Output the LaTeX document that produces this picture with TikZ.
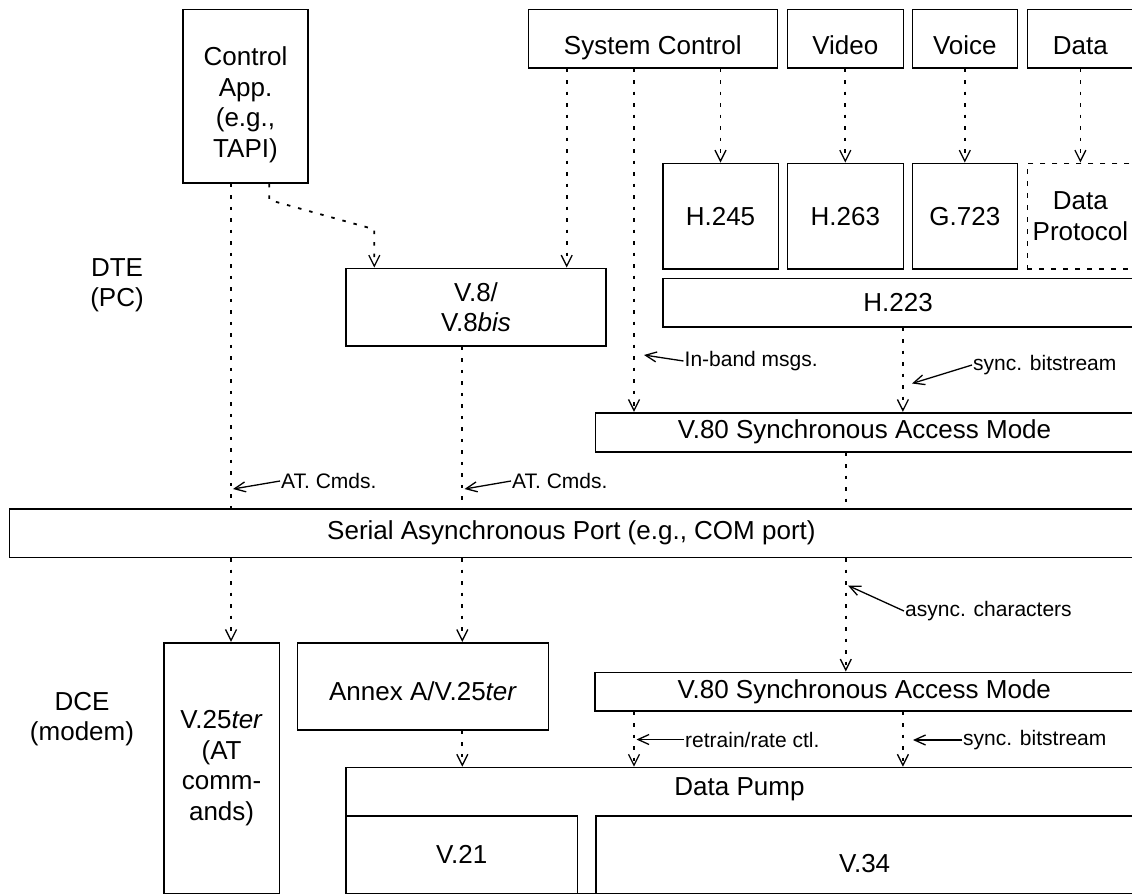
\documentclass[tikz,border=0pt]{standalone}
\usepackage{fontspec}
\setmainfont{Liberation Sans}
\usetikzlibrary{arrows.meta}
\def\msgfont{\fontsize{21}{25}\selectfont}

\begin{document}
\begin{tikzpicture}[x=1pt,y=-1pt,
  font=\fontsize{26}{30.5}\selectfont,
  blk/.style={draw,line width=1.6pt,align=center,inner sep=1pt},
  lowtext/.style={text height=#1,text depth=0pt},
  flow/.style={line width=1.8pt,dash pattern=on 3.5pt off 8pt,
    -{Straight Barb[length=11pt,width=11pt,line width=1.3pt]}},
  link/.style={line width=1.8pt,dash pattern=on 3.5pt off 8pt},
  note/.style={line width=1.3pt,-{Straight Barb[length=11pt,width=10pt]}},
  tag/.style={font=\msgfont,anchor=west,inner sep=1pt}]
\useasboundingbox (0,0) rectangle (1132,895);

% DTE side
\node (dte) at (117,285) [align=center] {DTE\\(PC)};
\node[blk,text height=124pt,text depth=2.4pt,minimum width=125,minimum height=173.7] (ctrl) at (245.5,96.2) {Control\\App.\\(e.g.,\\TAPI)};
\node[blk,lowtext=31pt,minimum width=249,minimum height=58.4] (sysctl) at (652.8,38.5) {System Control};
\node[blk,lowtext=31pt,minimum width=116,minimum height=58.4] (video) at (845.3,38.5) {Video};
\node[blk,lowtext=31pt,minimum width=105,minimum height=58.4] (voice) at (964.8,38.5) {Voice};
\node[blk,lowtext=31pt,minimum width=106.2,minimum height=58.4] (data) at (1080.4,38.5) {Data};
\node[blk,minimum width=115.6,minimum height=105.7] (h245) at (720.5,216.2) {H.245};
\node[blk,minimum width=116,minimum height=105.7] (h263) at (845.3,216.2) {H.263};
\node[blk,minimum width=105,minimum height=105.7] (g723) at (964.8,216.2) {G.723};
\node[blk,dash pattern=on 5pt off 7pt,minimum width=106.2,minimum height=105.7] (dproto) at (1080.4,216.2) {Data\\Protocol};
\node[blk,minimum width=470.8,minimum height=48.4] (h223) at (898.1,302.5) {H.223};
\node[blk,minimum width=260,minimum height=77.7] (v8) at (476,307.2) {V.8/\\V.8\textit{bis}};
\node[blk,minimum width=538,minimum height=39] (v80a) at (864.5,432.2) {V.80 Synchronous Access Mode};

% port
\node[blk,minimum width=1124.2,minimum height=48.3] (serial) at (571.4,533.2) {Serial Asynchronous Port (e.g., COM port)};

% DCE side
\node (dce) at (82,719) [align=center] {DCE\\(modem)};
\node[blk,minimum width=115.6,minimum height=250.6] (v25) at (221.6,768) {V.25\textit{ter}\\(AT\\comm-\\ands)};
\node[blk,lowtext=28pt,minimum width=250.7,minimum height=87.3] (annex) at (423,686.4) {Annex A/V.25\textit{ter}};
\node[blk,minimum width=538.5,minimum height=38.4] (v80b) at (864.3,691.5) {V.80 Synchronous Access Mode};
\node[blk,minimum width=787.5,minimum height=125.8] (pump) at (739.7,830.4) {};
\node (pumptxt) at (739.5,789) {Data Pump};
\node[blk,minimum width=231.3,minimum height=77.6] (v21) at (461.7,854.5) {V.21};
\node[blk,lowtext=35pt,minimum width=537.8,minimum height=77.3] (v34) at (864.6,854.7) {V.34};

% columns of the dotted lines
\coordinate (colat) at (231,0);
\coordinate (colv8) at (462.3,0);
\coordinate (colsys) at (566.7,0);
\coordinate (colband) at (634,0);
\coordinate (colasync) at (845.8,0);
\coordinate (colsync) at (902.9,0);
\coordinate (bend1) at (269.3,200);
\coordinate (bend2) at (374.3,229.3);

\draw[flow] (ctrl.south -| bend1) -- (bend1) -- (bend2) -- (v8.north -| bend2);
\draw[flow] (sysctl.south -| colsys) -- (v8.north -| colsys);
\draw[flow] (sysctl.south -| colband) -- (v80a.north -| colband);
\draw[flow] (sysctl.south -| h245.north) -- (h245.north);
\draw[flow] (video) -- (h263);
\draw[flow] (voice) -- (g723);
\draw[flow] (data) -- (dproto);
\draw[flow] (h223.south -| colsync) -- (v80a.north -| colsync);
\draw[link] (ctrl.south -| colat) -- (serial.north -| colat);
\draw[link] (v8.south -| colv8) -- (serial.north -| colv8);
\draw[link] (v80a.south -| colasync) -- (serial.north -| colasync);
\draw[flow] (serial.south -| colat) -- (v25.north -| colat);
\draw[flow] (serial.south -| colv8) -- (annex.north -| colv8);
\draw[flow] (serial.south -| colasync) -- (v80b.north -| colasync);
\draw[flow] (annex.south -| colv8) -- (pump.north -| colv8);
\draw[flow] (v80b.south -| colband) -- (pump.north -| colband);
\draw[flow] (v80b.south -| colsync) -- (pump.north -| colsync);

% notes on the lines
\node[tag] (atcmdA) at (280,481) {AT. Cmds.};
\node[tag] (atcmdB) at (511,481) {AT. Cmds.};
\node[tag] (inband) at (683.5,361) {In-band msgs.};
\node[tag] (syncA) at (972,365) {sync. bitstream};
\node[tag] (async) at (904,611) {async. characters};
\node[tag] (retrain) at (684,739.5) {retrain/rate ctl.};
\node[tag] (syncB) at (962,740) {sync. bitstream};
\coordinate (atcmdAtip) at (233,489);
\coordinate (atcmdBtip) at (464.5,489);
\coordinate (inbandtip) at (644,355);
\coordinate (syncAtip) at (912,383.5);
\coordinate (asynctip) at (848,585.5);
\coordinate (retraintip) at (636.5,739.5);
\coordinate (syncBtip) at (913,740);
\draw[note] (atcmdA.west) -- (atcmdAtip);
\draw[note] (atcmdB.west) -- (atcmdBtip);
\draw[note] (inband.west) -- (inbandtip);
\draw[note] (syncA.west) -- (syncAtip);
\draw[note] (async.west) -- (asynctip);
\draw[note] (retrain.west) -- (retraintip);
\draw[note] (syncB.west) -- (syncBtip);
\end{tikzpicture}
\end{document}
